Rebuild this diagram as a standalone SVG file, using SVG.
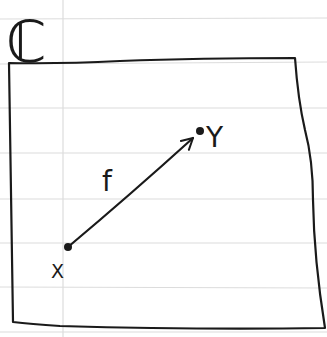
<svg xmlns="http://www.w3.org/2000/svg" width="327" height="337" viewBox="0 0 327 337">
<style>
.rule{stroke:#dcdcdc;stroke-width:1.2;fill:none}
.ink{stroke:#1a1a1a;stroke-width:2.2;fill:none;stroke-linecap:round;stroke-linejoin:round}
.lbl{font-family:"DejaVu Sans",sans-serif;fill:#1a1a1a}
</style>
<defs>
<marker id="ah" markerWidth="14" markerHeight="14" refX="12" refY="7" orient="auto" markerUnits="userSpaceOnUse">
<path d="M1,1 L12,7 L1,13" fill="none" stroke="#1a1a1a" stroke-width="2" stroke-linecap="round" stroke-linejoin="round"/>
</marker>
</defs>
<rect width="327" height="337" fill="#ffffff"/>
<g id="paper">
<line class="rule" x1="0" y1="19" x2="327" y2="18"/>
<line class="rule" x1="0" y1="64" x2="327" y2="62"/>
<line class="rule" x1="0" y1="108" x2="327" y2="108"/>
<line class="rule" x1="0" y1="153" x2="327" y2="153"/>
<line class="rule" x1="0" y1="199" x2="327" y2="199"/>
<line class="rule" x1="0" y1="243" x2="327" y2="243"/>
<line class="rule" x1="0" y1="287" x2="327" y2="288"/>
<line class="rule" x1="0" y1="332" x2="327" y2="332"/>
<line class="rule" x1="63" y1="0" x2="63" y2="337"/>
</g>
<g id="category">
<path class="ink" d="M9,63 Q60,64 120,61 Q200,58 295,58 Q298,100 305,130 Q313,160 313,200 Q314,260 325,328 Q200,330 60,326 Q30,324 13,322 Q11,200 9,63 Z"/>
<text class="lbl" x="6" y="62" font-size="58">ℂ</text>
</g>
<g id="connectors">
<path class="ink" d="M68,247 Q130,195 193,138" marker-end="url(#ah)"/>
<text class="lbl" x="102" y="191" font-size="28">f</text>
</g>
<g id="nodeX">
<circle cx="68" cy="247" r="4" fill="#1a1a1a"/>
<text class="lbl" x="51" y="278" font-size="19">X</text>
</g>
<g id="nodeY">
<circle cx="200" cy="131" r="4" fill="#1a1a1a"/>
<text class="lbl" x="206" y="147" font-size="28">Y</text>
</g>
</svg>
